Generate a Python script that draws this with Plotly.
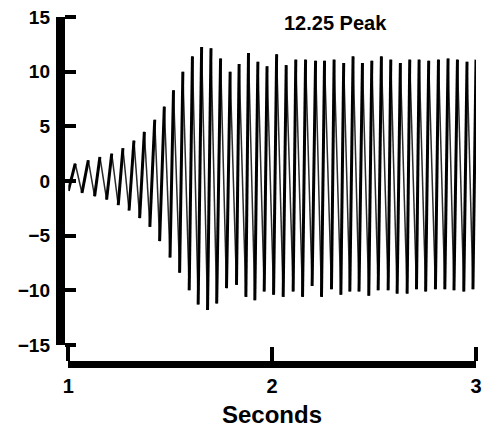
import plotly.graph_objects as go

# Alternating extrema of the response trace (start, peak, trough, peak, ...)
time_s = [
    1.000,
    1.034, 1.067, 1.098, 1.129, 1.155, 1.188, 1.213, 1.245, 1.268, 1.298,
    1.322, 1.350, 1.373, 1.400, 1.424, 1.448, 1.471, 1.499, 1.516, 1.546,
    1.562, 1.593, 1.609, 1.637, 1.654, 1.683, 1.700, 1.728, 1.747, 1.776,
    1.794, 1.825, 1.838, 1.871, 1.884, 1.915, 1.930, 1.961, 1.975, 2.007,
    2.022, 2.054, 2.069, 2.103, 2.116, 2.149, 2.164, 2.196, 2.213, 2.242,
    2.257, 2.291, 2.304, 2.337, 2.351, 2.381, 2.397, 2.426, 2.443, 2.474,
    2.489, 2.520, 2.536, 2.569, 2.582, 2.613, 2.629, 2.662, 2.675, 2.708,
    2.721, 2.753, 2.768, 2.801, 2.816, 2.847, 2.863, 2.892, 2.909, 2.940,
    2.956, 2.985, 3.000,
]
response = [
    -0.9,
    1.6, -1.1, 1.9, -1.4, 2.2, -1.7, 2.5, -2.2, 3.0, -2.7,
    3.7, -3.4, 4.5, -4.2, 5.6, -5.5, 6.8, -7.0, 8.3, -8.4,
    10.0, -10.0, 11.4, -11.3, 12.25, -11.8, 12.15, -11.2, 11.2, -9.8,
    10.0, -9.5, 10.7, -10.6, 11.7, -10.9, 10.9, -10.1, 10.5, -10.4,
    11.6, -10.6, 10.6, -10.1, 11.1, -10.6, 11.1, -9.6, 11.0, -10.6,
    11.0, -9.9, 11.1, -10.4, 10.8, -10.1, 11.4, -10.1, 10.8, -10.5,
    11.0, -10.0, 11.4, -10.0, 11.1, -10.3, 10.8, -10.3, 11.1, -9.9,
    11.1, -10.1, 11.0, -9.9, 11.1, -9.9, 11.2, -10.0, 11.1, -10.1,
    10.9, -9.9, 11.1,
]

y_ticks = [-15, -10, -5, 0, 5, 10, 15]
x_ticks = [1, 2, 3]
peak_label = "12.25 Peak"
x_title = "Seconds"

W, H = 482, 427
font_family = "Liberation Sans, Arial, sans-serif"

X_DOMAIN = [68.3 / W, 476 / W]
Y_DOMAIN = [1 - 345 / H, 1 - 17 / H]
X_LINE_POS = 1 - 364 / H
Y_LINE_POS = 60 / W

# Split the trace into rising and falling strokes: the rising strokes are
# the dark ones on the record, the falling ones are lighter.
rise_x, rise_y, fall_x, fall_y = [], [], [], []
for i in range(len(time_s) - 1):
    seg_x = [time_s[i], time_s[i + 1], None]
    seg_y = [response[i], response[i + 1], None]
    if response[i + 1] > response[i]:
        rise_x += seg_x
        rise_y += seg_y
    else:
        fall_x += seg_x
        fall_y += seg_y

fig = go.Figure()
fig.add_trace(go.Scatter(
    x=fall_x, y=fall_y, mode="lines",
    line=dict(color="#2a2a2a", width=1.5),
    hoverinfo="skip", showlegend=False,
))
fig.add_trace(go.Scatter(
    x=rise_x, y=rise_y, mode="lines",
    line=dict(color="black", width=3.0),
    hoverinfo="skip", showlegend=False,
))
# empty trace that carries the label-only axes
fig.add_trace(go.Scatter(x=[], y=[], xaxis="x2", yaxis="y2",
                         hoverinfo="skip", showlegend=False))

label_font_y = dict(family=font_family, size=19, color="black", weight="bold")
label_font_x = dict(family=font_family, size=20, color="black", weight="bold")

fig.update_layout(
    width=W, height=H, autosize=False,
    margin=dict(l=0, r=0, t=0, b=0, autoexpand=False),
    paper_bgcolor="white", plot_bgcolor="white",
    # axis lines with ticks pointing into the plot
    xaxis=dict(
        range=[1, 3], domain=X_DOMAIN,
        anchor="free", position=X_LINE_POS, side="top",
        showline=True, linecolor="black", linewidth=7,
        ticks="outside", ticklen=14, tickwidth=4, tickcolor="black",
        tickvals=x_ticks, showticklabels=False,
        showgrid=False, zeroline=False,
    ),
    yaxis=dict(
        range=[-15, 15], domain=Y_DOMAIN,
        anchor="free", position=Y_LINE_POS, side="right",
        showline=True, linecolor="black", linewidth=9,
        ticks="outside", ticklen=11, tickwidth=4, tickcolor="black",
        tickvals=y_ticks, showticklabels=False,
        showgrid=False, zeroline=False,
    ),
    # tick labels on the outer side
    xaxis2=dict(
        range=[1, 3], domain=X_DOMAIN, overlaying="x",
        anchor="free", position=X_LINE_POS, side="bottom",
        showline=False, ticks="",
        tickvals=x_ticks, ticktext=[str(v) for v in x_ticks],
        tickfont=label_font_x, ticklabelstandoff=8,
        showgrid=False, zeroline=False,
    ),
    yaxis2=dict(
        range=[-15, 15], domain=Y_DOMAIN, overlaying="y",
        anchor="free", position=Y_LINE_POS, side="left",
        showline=False, ticks="",
        tickvals=y_ticks,
        tickfont=label_font_y, ticklabelstandoff=10,
        showgrid=False, zeroline=False,
    ),
    annotations=[
        dict(x=2.31, y=14.47, xref="x", yref="y", text=peak_label,
             showarrow=False, xanchor="center", yanchor="middle",
             font=dict(family=font_family, size=20, color="black", weight="bold")),
        dict(x=2, y=-0.004, xref="x", yref="paper", text=x_title,
             showarrow=False, xanchor="center", yanchor="bottom", borderpad=0,
             font=dict(family=font_family, size=24, color="black", weight=900)),
    ],
)

fig.write_html("out.html")
